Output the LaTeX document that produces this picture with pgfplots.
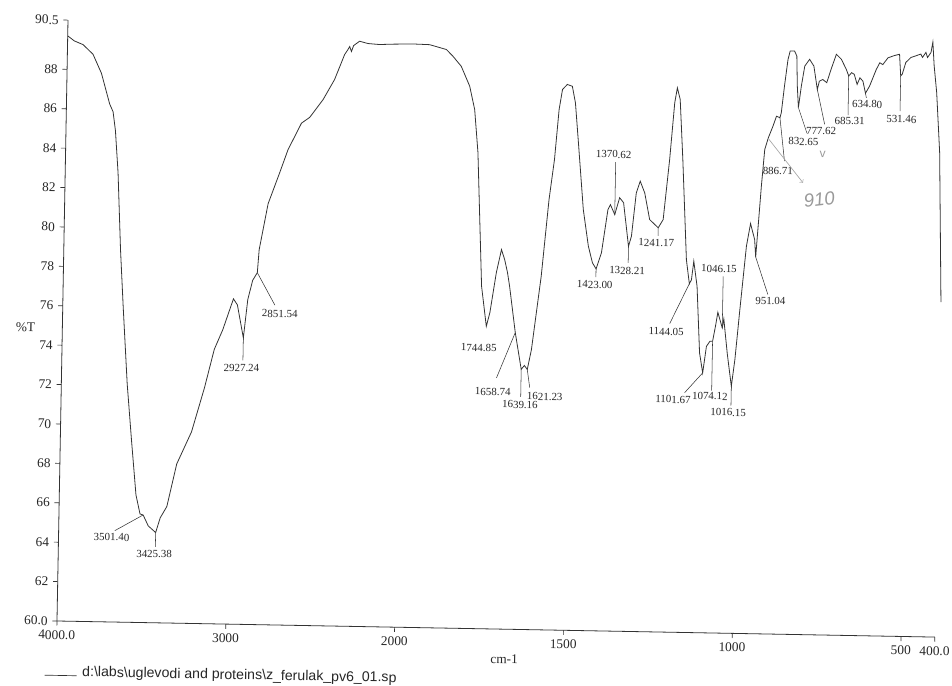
\documentclass[border=0pt]{standalone}
\usepackage{fontspec}
\setmainfont{Liberation Serif}
\newfontfamily\sansf{Liberation Sans}
\usepackage{pgfplots}
\usepackage{pgfplotstable}
\pgfplotsset{compat=1.18}

\pgfplotstableread{
wn T
4000 89.70
3960 89.45
3908 89.27
3848 88.79
3796 87.83
3744 86.28
3723 85.89
3707 84.93
3687 82.80
3664 78.89
3642 76.00
3610 72.10
3578 69.21
3546 66.47
3520 65.51
3501.4 65.46
3470 64.91
3425.4 64.58
3400 65.33
3362 65.91
3308 68.08
3224 69.72
3152 71.97
3098 73.93
3050 74.93
2990 76.51
2966 76.21
2927.2 74.54
2905 76.49
2878 77.47
2851.5 77.86
2843 79.03
2795 81.37
2730 82.95
2683 84.13
2606 85.49
2558 85.79
2481 86.70
2415 87.73
2358 89.01
2340 89.25
2329 89.42
2318 89.17
2306 89.47
2271 89.70
2221 89.59
2152 89.55
2080 89.58
2000 89.60
1978 89.61
1928 89.59
1878 89.36
1858 89.02
1833 88.52
1807 87.52
1791 86.34
1779 84.16
1770 80.76
1761 77.38
1744.85 75.35
1735 76.05
1718 78.09
1704 79.26
1694 78.75
1685 78.10
1678 77.40
1658.74 75.06
1639.16 73.2
1630 73.4
1621.23 73.2
1610 74.21
1585 77.94
1566 81.84
1552 83.88
1541 86.42
1532 87.44
1518 87.70
1503 87.61
1493 86.77
1482 84.75
1464 81.37
1447 79.51
1434 78.67
1423 78.37
1408 79.18
1391 81.39
1384 81.64
1370.6 81.14
1357 82.00
1345 81.75
1328.2 79.54
1320 80.06
1308 82.26
1297 82.86
1283 82.27
1267 80.92
1241.2 80.51
1227 80.93
1211 83.99
1199 86.87
1192 87.63
1183 87.04
1172 84.00
1156 78.92
1146 77.70
1140 77.90
1134 78.85
1123 77.58
1112 74.20
1101.7 73.19
1092 74.54
1082 74.80
1074.1 74.80
1066 75.60
1060 76.28
1046.15 75.49
1042 75.95
1030 74.20
1016.15 72.54
1007 73.90
995 76.44
979 79.66
968 80.81
955 80.00
951.04 79.12
938 82.72
930 84.58
920 85.18
907 85.77
897 86.28
886.7 86.21
883 86.46
875 87.82
866 89.17
860 89.60
847 89.61
840 89.35
837 87.83
832.65 86.74
825 87.84
816 88.85
802 89.20
789 88.86
777.6 87.68
772 88.10
762 88.19
750 88.03
738 88.71
723 89.48
708 89.23
693 88.73
685.3 88.39
677 88.56
669 88.48
660 87.97
652 88.31
643 88.14
634.8 87.53
623 87.90
604 88.75
594 89.09
585 89.00
570 89.35
551 89.47
536 89.54
531.5 88.44
527 88.53
517 89.13
502 89.39
487 89.48
473 89.57
468 89.40
458 89.66
453 89.40
443 89.66
438 90.19
433 89.00
424 87.63
412 84.60
400 77.00
}\spectrum

\begin{document}
\begin{tikzpicture}
\useasboundingbox (-42.75pt,-48pt) rectangle (671.25pt,465.75pt);
\begin{scope}[rotate=-1.05]
\begin{axis}[
  scale only axis, width=658.5pt, height=450.75pt,
  x coord trafo/.code={\pgfmathparse{#1>2000 ? 2000+(#1-2000)/2 : #1}},
  x dir=reverse,
  xmin=400, xmax=4000, ymin=60, ymax=90.5,
  axis x line*=bottom, axis y line*=left,
  axis line style={line width=0.6pt, black!80, -},
  tick align=outside, major tick length=3.5pt,
  tick style={line width=0.5pt, black!80},
  xtick={4000,3000,2000,1500,1000,500,400},
  xticklabels={4000.0,3000,2000,1500,1000,500,400.0},
  ytick={60,62,64,66,68,70,72,74,76,78,80,82,84,86,88,90.5},
  yticklabels={60.0,62,64,66,68,70,72,74,76,78,80,82,84,86,88,90.5},
  tick label style={font=\fontsize{10}{12}\selectfont, black!85},
  clip=false,
]
\addplot[line width=0.6pt, black!80] table[x=wn, y=T] {\spectrum};

\begin{scope}[line width=0.4pt, black!80]
\draw (axis cs:3501.4,65.46) -- (axis cs:3667,64.64);
\draw (axis cs:3425.4,64.58) -- (axis cs:3425.4,63.85);
\draw (axis cs:2927.2,74.54) -- (axis cs:2927.2,73.4);
\draw (axis cs:2851.5,77.86) -- (axis cs:2744,76.23);
\draw (axis cs:1658.74,75.06) -- (axis cs:1712,72.74);
\draw (axis cs:1639.16,73.2) -- (axis cs:1639.16,71.8);
\draw (axis cs:1621.23,73.2) -- (axis cs:1613,72.28);
\draw (axis cs:1423,78.37) -- (axis cs:1423,77.95);
\draw (axis cs:1370.6,81.14) -- (axis cs:1370.6,83.8);
\draw (axis cs:1328.2,79.54) -- (axis cs:1328.2,78.7);
\draw (axis cs:1241.2,80.51) -- (axis cs:1241.2,80.1);
\draw (axis cs:1146,77.70) -- (axis cs:1202,75.66);
\draw (axis cs:1101.7,73.19) -- (axis cs:1154,72.17);
\draw (axis cs:1074.1,74.8) -- (axis cs:1074.1,72.3);
\draw (axis cs:1016.15,72.54) -- (axis cs:1016.15,71.55);
\draw (axis cs:1046.15,75.49) -- (axis cs:1046.15,78.1);
\draw (axis cs:951.04,79.12) -- (axis cs:913,77.23);
\draw (axis cs:886.7,86.21) -- (axis cs:871,84.01);
\draw (axis cs:832.65,86.74) -- (axis cs:806,85.45);
\draw (axis cs:777.6,87.68) -- (axis cs:754,85.91);
\draw (axis cs:685.3,88.39) -- (axis cs:685.3,86.4);
\draw (axis cs:634.8,87.53) -- (axis cs:632,87.3);
\draw (axis cs:531.5,88.44) -- (axis cs:531.5,86.65);
\end{scope}

\begin{scope}[every node/.style={font=\fontsize{8.2}{10}\selectfont, black!85, inner sep=0pt}]
\node at (axis cs:3686,64.30) {3501.40};
\node at (axis cs:3432,63.49) {3425.38};
\node at (axis cs:2935,73.0) {2927.24};
\node at (axis cs:2714,75.8) {2851.54};
\node at (axis cs:1766,74.26) {1744.85};
\node at (axis cs:1722,72.04) {1658.74};
\node at (axis cs:1641,71.41) {1639.16};
\node at (axis cs:1568,71.84) {1621.23};
\node at (axis cs:1426,77.57) {1423.00};
\node at (axis cs:1377,84.19) {1370.62};
\node at (axis cs:1331,78.31) {1328.21};
\node at (axis cs:1246,79.75) {1241.17};
\node at (axis cs:1212,75.25) {1144.05};
\node at (axis cs:1188,71.81) {1101.67};
\node at (axis cs:1079,72.01) {1074.12};
\node at (axis cs:1024,71.21) {1016.15};
\node at (axis cs:1059,78.49) {1046.15};
\node at (axis cs:905,76.89) {951.04};
\node at (axis cs:890,83.5) {886.71};
\node at (axis cs:816,85.02) {832.65};
\node at (axis cs:764,85.57) {777.62};
\node at (axis cs:680,86.1) {685.31};
\node at (axis cs:629,86.97) {634.80};
\node at (axis cs:527,86.24) {531.46};
\end{scope}

% handwritten annotation on the scan
\draw[black!35, line width=0.5pt, ->] (axis cs:918,85.1) -- (axis cs:815,82.93);
\node[black!40, font=\sansf\itshape\fontsize{14}{16}\selectfont, rotate=8] at (axis cs:766,82.1) {910};
\node[black!40, font=\sansf\fontsize{9}{10}\selectfont] at (axis cs:758,84.39) {v};

\node[font=\fontsize{10}{12}\selectfont, black!85] at (axis description cs:-0.042,0.4875) {\%T};
\node[font=\fontsize{10}{12}\selectfont, black!85] at (axis description cs:0.51,-0.05) {cm-1};
\draw[black!80, line width=0.5pt] (axis description cs:-0.013,-0.0905) -- ++(24pt,0pt);
\node[font=\sansf\fontsize{10.6}{12}\selectfont, black!85, anchor=west, inner sep=0pt] at (axis description cs:0.0296,-0.0855) {d:\textbackslash labs\textbackslash uglevodi and proteins\textbackslash z\_ferulak\_pv6\_01.sp};
\end{axis}
\end{scope}
\end{tikzpicture}
\end{document}
